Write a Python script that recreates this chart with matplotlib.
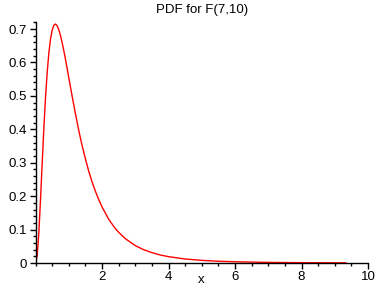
import matplotlib.pyplot as plt
from matplotlib.ticker import MultipleLocator

# points
x = [0, 0.05, 0.1, 0.15, 0.2, 0.25, 0.3, 0.35, 0.4, 0.45, 0.5, 0.55, 0.6,
     0.65, 0.7, 0.75, 0.8, 0.85, 0.9, 0.95, 1.0, 1.1, 1.2, 1.3, 1.4, 1.5,
     1.6, 1.7, 1.8, 1.9, 2.0, 2.2, 2.4, 2.5, 2.7, 3.0, 3.25, 3.5, 3.75,
     4.0, 4.5, 5.0, 5.5, 6.0, 7.0, 8.0, 9.0, 9.33]
y = [0, 0.021, 0.090, 0.188, 0.297, 0.401, 0.493, 0.568, 0.627, 0.669,
     0.696, 0.711, 0.715, 0.710, 0.698, 0.681, 0.660, 0.636, 0.610, 0.583,
     0.555, 0.500, 0.447, 0.397, 0.352, 0.312, 0.275, 0.243, 0.215, 0.190,
     0.168, 0.131, 0.103, 0.092, 0.073, 0.052, 0.040, 0.031, 0.024,
     0.019, 0.012, 0.0079, 0.0053, 0.0037, 0.0018, 0.0010, 0.00056,
     0.00048]

plt.rcParams['font.family'] = ['Liberation Sans', 'DejaVu Sans']

fig = plt.figure(figsize=(3.88, 2.88), dpi=100)
ax = fig.add_axes([0.0915, 0.0868, 0.857, 0.838])
ax.plot(x, y, color='red', linewidth=1)

ax.set_xlim(0, 10)
ax.set_ylim(0, 0.722)
ax.spines['top'].set_visible(False)
ax.spines['right'].set_visible(False)
ax.spines['left'].set_linewidth(1)
ax.spines['bottom'].set_linewidth(1)

ax.xaxis.set_minor_locator(MultipleLocator(0.5))
ax.yaxis.set_minor_locator(MultipleLocator(0.02))
ax.set_xticks([2, 4, 6, 8, 10])
ax.set_yticks([0, 0.1, 0.2, 0.3, 0.4, 0.5, 0.6, 0.7])
ax.set_yticklabels(['0', '0.1', '0.2', '0.3', '0.4', '0.5', '0.6', '0.7'])
ax.tick_params(which='major', length=4, width=1, labelsize=9.5, pad=2)
ax.tick_params(which='minor', length=2, width=1)

fig.text(201 / 388, 1 - 280 / 288, 'x', fontsize=9.5, ha='center', va='center')
ax.set_title('PDF for F(7,10)', fontsize=9.5, pad=6)

plt.savefig('out.png')
